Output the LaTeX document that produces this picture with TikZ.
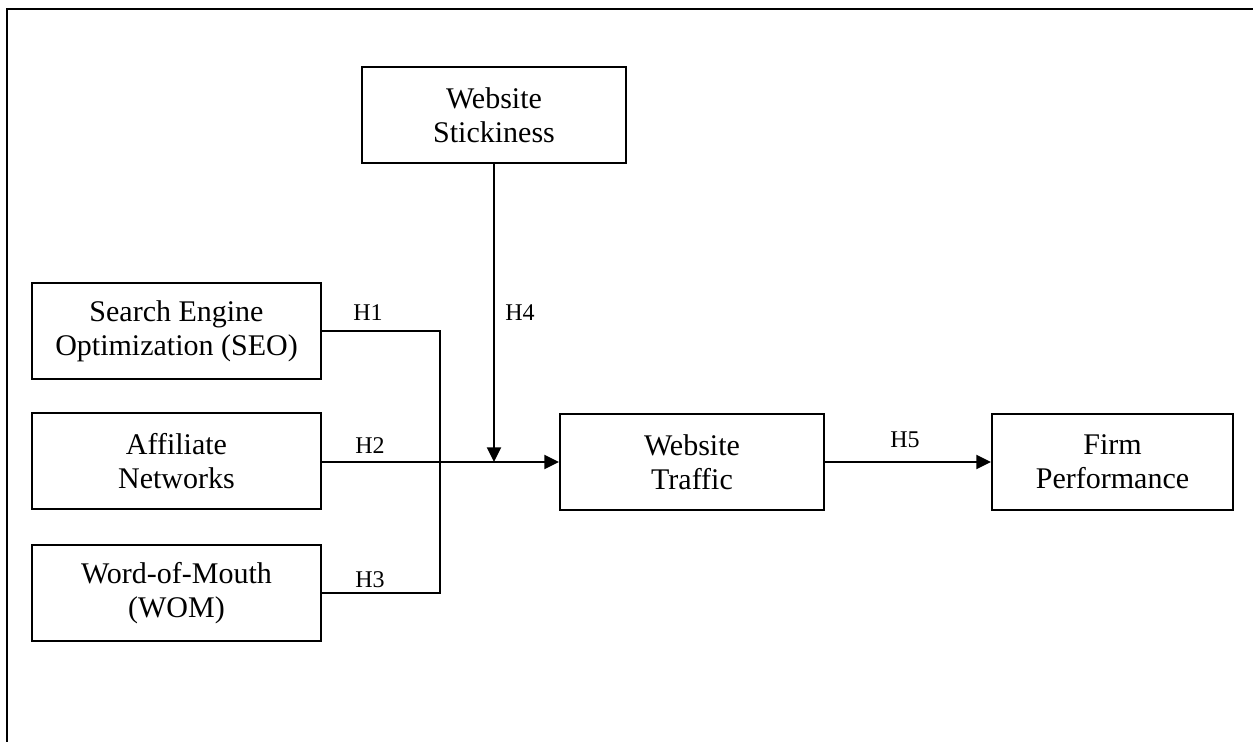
\documentclass[tikz,border=0pt]{standalone}
\usepackage{fontspec}
\setmainfont{Liberation Serif}
\usetikzlibrary{arrows.meta}
\begin{document}
\begin{tikzpicture}[x=0.75pt,y=-0.75pt,
  box/.style={draw,line width=1.5pt,minimum height=72pt,inner sep=0pt,align=center,
    font=\fontsize{22.5}{25.5}\selectfont},
  conn/.style={line width=1.5pt},
  thinconn/.style={line width=0.9pt},
  arr/.style={line width=1.5pt,-{Triangle[length=11pt,width=10.5pt]}},
  hlab/.style={font=\fontsize{18}{20}\selectfont,inner sep=0pt}]
\useasboundingbox (0,0) rectangle (1253,742);
\draw[line width=1.6pt] (7,742) -- (7,9) -- (1253,9);
\node[box,minimum width=198pt] (stick) at (494,115) {Website\\Stickiness};
\node[box,minimum width=216.75pt] (seo) at (176.5,331) {Search Engine\\Optimization (SEO)};
\node[box,minimum width=216.75pt] (aff) at (176.5,461) {Affiliate\\Networks};
\node[box,minimum width=216.75pt] (wom) at (176.5,593) {Word-of-Mouth\\(WOM)};
\node[box,minimum width=198pt] (traffic) at (692,462) {Website\\Traffic};
\node[box,minimum width=180.75pt] (firm) at (1112.5,462) {Firm\\Performance};
\coordinate (j) at (440,462);
\coordinate (jend) at (465,462);
\draw[conn] (seo.east) -| (j);
\draw[conn] (wom.east) -| (j);
\draw[thinconn] (aff.east |- j) -- (jend);
\draw[arr] (j) -- (traffic.west);
\draw[arr] (stick.south) -- (stick.south |- j);
\draw[arr] (traffic.east) -- (firm.west);
\node[hlab] (h1) at (368,313) {H1};
\node[hlab] (h2) at (370,445.5) {H2};
\node[hlab] (h3) at (370,580) {H3};
\node[hlab] (h4) at (520,313) {H4};
\node[hlab] (h5) at (905,440) {H5};
\end{tikzpicture}
\end{document}
